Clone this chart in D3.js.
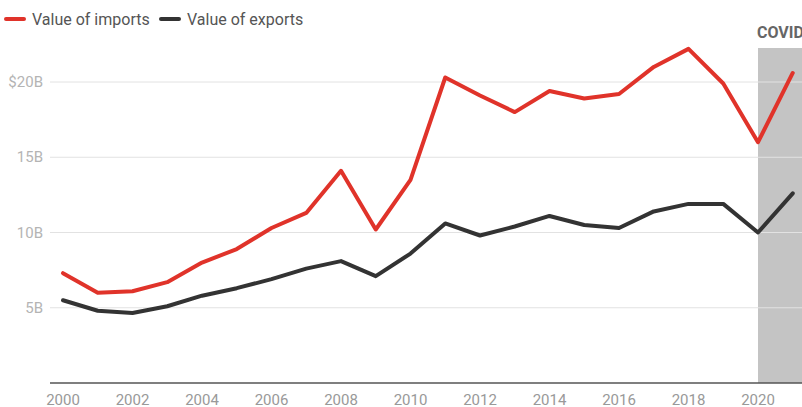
<!DOCTYPE html>
<html><head><meta charset="utf-8">
<script src="https://cdn.jsdelivr.net/npm/d3@7"></script>
<style>body{margin:0;background:#fff;font-family:Roboto,"Noto Sans",sans-serif;}</style>
</head><body>
<svg id="c" width="802" height="407"></svg>
<script>
const years = d3.range(2000, 2022);
const imports = [7.3,6.0,6.1,6.7,8.0,8.9,10.3,11.3,14.1,10.2,13.5,20.3,19.1,18.0,19.4,18.9,19.2,21.0,22.2,19.9,16.0,20.6];
const exports = [5.5,4.8,4.65,5.1,5.8,6.3,6.9,7.6,8.1,7.1,8.6,10.6,9.8,10.4,11.1,10.5,10.3,11.4,11.9,11.9,10.0,12.6];
const yTicks = [5,10,15,20];
const xTicks = d3.range(2000, 2021, 2);
const seriesNames = ["Value of imports","Value of exports"];
const colors = ["#e0332a","#333333"];

const svg = d3.select("#c");
const x = d3.scaleLinear().domain([2000,2020]).range([63,758]);
const y = d3.scaleLinear().domain([0,20]).range([383,82]);

// covid band
svg.append("rect").attr("x",x(2020)).attr("y",48).attr("width",802-x(2020)).attr("height",383-48).attr("fill","#c4c4c4");
svg.append("text").attr("x",x(2020)-1).attr("y",38).attr("font-size",16).attr("font-weight","bold").attr("fill","#666").text("COVID");

// grid
svg.selectAll(".g").data(yTicks).enter().append("line")
  .attr("x1",50).attr("x2",802).attr("y1",d=>y(d)).attr("y2",d=>y(d))
  .attr("stroke","#e2e2e2").attr("stroke-width",1);
svg.selectAll(".yl").data(yTicks).enter().append("text")
  .attr("x",43).attr("y",d=>y(d)+5).attr("text-anchor","end").attr("font-size",15).attr("fill","#b4b4b4")
  .text(d=> d===20 ? "$20B" : d+"B");

// axis
svg.append("line").attr("x1",50).attr("x2",802).attr("y1",383).attr("y2",383).attr("stroke","#555").attr("stroke-width",1.5);
svg.selectAll(".xl").data(xTicks).enter().append("text")
  .attr("x",d=>x(d)).attr("y",405).attr("text-anchor","middle").attr("font-size",15).attr("fill","#999")
  .text(d=>d);

const line = d3.line().x((d,i)=>x(years[i])).y(d=>y(d));
[imports, exports].forEach((s,k)=>{
  svg.append("path").attr("d",line(s)).attr("fill","none").attr("stroke",colors[k])
    .attr("stroke-width",4).attr("stroke-linejoin","round").attr("stroke-linecap","round");
});

// legend
const lx = [6,161];
seriesNames.forEach((n,k)=>{
  svg.append("line").attr("x1",lx[k]).attr("x2",lx[k]+18).attr("y1",19).attr("y2",19)
    .attr("stroke",colors[k]).attr("stroke-width",4).attr("stroke-linecap","round");
  svg.append("text").attr("x",lx[k]+26).attr("y",24.5).attr("font-size",16).attr("fill","#555").text(n);
});
</script>
</body></html>
